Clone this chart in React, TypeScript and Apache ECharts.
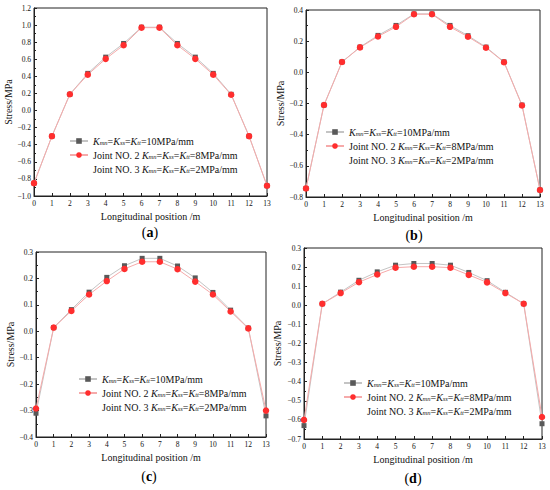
import React, { useEffect, useRef } from "react";
import * as echarts from "echarts";

// ---- data ----
const positions = [0, 1, 2, 3, 4, 5, 6, 7, 8, 9, 10, 11, 12, 13];
const seriesNames = [
  "Kmn=Kss=Ktt=10MPa/mm",
  "Joint NO. 2 Kmn=Kss=Ktt=8MPa/mm",
  "Joint NO. 3 Kmn=Kss=Ktt=2MPa/mm",
];
const panelA_K10 = [-0.85, -0.3, 0.19, 0.435, 0.625, 0.785, 0.975, 0.975, 0.785, 0.625, 0.435, 0.19, -0.3, -0.88];
const panelA_K8 = [-0.85, -0.3, 0.19, 0.42, 0.605, 0.765, 0.97, 0.97, 0.765, 0.605, 0.42, 0.185, -0.3, -0.88];
const panelB_K10 = [-0.745, -0.21, 0.067, 0.162, 0.237, 0.301, 0.375, 0.375, 0.301, 0.235, 0.162, 0.067, -0.21, -0.755];
const panelB_K8 = [-0.745, -0.21, 0.066, 0.16, 0.23, 0.292, 0.373, 0.373, 0.292, 0.228, 0.158, 0.065, -0.213, -0.755];
const panelC_K10 = [-0.31, 0.014, 0.082, 0.148, 0.204, 0.248, 0.276, 0.276, 0.247, 0.202, 0.147, 0.08, 0.012, -0.32];
const panelC_K8 = [-0.292, 0.014, 0.077, 0.139, 0.19, 0.236, 0.263, 0.263, 0.235, 0.188, 0.139, 0.075, 0.011, -0.3];
const panelD_K10 = [-0.63, 0.008, 0.069, 0.131, 0.175, 0.21, 0.219, 0.219, 0.21, 0.172, 0.129, 0.068, 0.008, -0.62];
const panelD_K8 = [-0.6, 0.008, 0.064, 0.121, 0.161, 0.197, 0.202, 0.202, 0.197, 0.159, 0.12, 0.064, 0.008, -0.585];
const panelLetters = ["a", "b", "c", "d"];
const yMin = [-1.0, -0.8, -0.4, -0.7];
const yMax = [1.2, 0.4, 0.3, 0.3];
const yStep = [0.2, 0.2, 0.1, 0.1];
const xMin = 0;
const xMax = 13;
const xStep = 1;
const xAxisTitle = "Longitudinal position /m";
const yAxisTitle = "Stress/MPa";

// ---- layout ----
const FONT = "'Liberation Serif', 'Times New Roman', serif";
const grids = [
  { left: 34, top: 8, width: 233, height: 188 },
  { left: 306, top: 10, width: 234, height: 187 },
  { left: 36, top: 252, width: 230, height: 185 },
  { left: 304, top: 248, width: 238, height: 191 },
];
const yNameGaps = [19, 18, 20, 22];
const legendPos = [
  { left: 69, top: 136 },
  { left: 325, top: 127 },
  { left: 78, top: 374 },
  { left: 343, top: 378 },
];
const labelPos = [
  { x: 150, y: 232 },
  { x: 414, y: 235 },
  { x: 149, y: 476 },
  { x: 413, y: 478 },
];

function fmtTick(v: number) {
  const r = Math.round(v * 10) / 10;
  if (Math.abs(r) < 1e-9) return "0.0";
  return (r < 0 ? "\u2212" : "") + Math.abs(r).toFixed(1);
}

export default function App() {
  const ref = useRef<HTMLDivElement>(null);
  useEffect(() => {
    if (!ref.current) return;
    const chart = echarts.init(ref.current, undefined, { renderer: "svg" });
    const panelData = [
      [panelA_K10, panelA_K8],
      [panelB_K10, panelB_K8],
      [panelC_K10, panelC_K8],
      [panelD_K10, panelD_K8],
    ];
    const axisLine = { show: true, onZero: false, lineStyle: { color: "#222", width: 1 } };
    const series: any[] = [];
    panelData.forEach((pd, i) => {
      series.push({
        type: "line",
        name: seriesNames[0],
        xAxisIndex: i,
        yAxisIndex: i,
        data: positions.map((x, j) => [x, pd[0][j]]),
        symbol: "rect",
        symbolSize: 5,
        clip: false,
        itemStyle: { color: "#595959" },
        lineStyle: { color: "#c4c4c4", width: 1 },
      });
      series.push({
        type: "line",
        name: seriesNames[1],
        xAxisIndex: i,
        yAxisIndex: i,
        data: positions.map((x, j) => [x, pd[1][j]]),
        symbol: "circle",
        symbolSize: 6.5,
        clip: false,
        itemStyle: { color: "#ff2e2e" },
        lineStyle: { color: "#f6aaaa", width: 1 },
      });
      series.push({
        type: "line",
        name: seriesNames[2],
        xAxisIndex: i,
        yAxisIndex: i,
        data: [],
        symbol: "none",
        itemStyle: { color: "rgba(0,0,0,0)" },
        lineStyle: { color: "rgba(0,0,0,0)", width: 0 },
      });
    });

    const richLegend = {
      k: { fontStyle: "italic", fontSize: 10, fontFamily: FONT, color: "#111", lineHeight: 10 },
      s: { fontStyle: "italic", fontSize: 6.5, fontFamily: FONT, color: "#111", verticalAlign: "bottom", lineHeight: 6 },
    };

    const option: any = {
      animation: false,
      backgroundColor: "#fff",
      grid: grids.map((g) => ({ ...g, show: true, borderColor: "#222", borderWidth: 1, containLabel: false })),
      xAxis: grids.map((_, i) => ({
        type: "value",
        gridIndex: i,
        min: xMin,
        max: xMax,
        interval: xStep,
        name: xAxisTitle,
        nameLocation: "middle",
        nameGap: 15,
        nameTextStyle: { fontFamily: FONT, fontSize: 10, color: "#111" },
        axisLine,
        axisTick: { show: true, inside: true, length: 3, lineStyle: { color: "#222" } },
        minorTick: { show: false },
        axisLabel: { fontFamily: FONT, fontSize: 7.5, color: "#111", margin: 3 },
        splitLine: { show: false },
      })),
      yAxis: grids.map((_, i) => ({
        type: "value",
        gridIndex: i,
        min: yMin[i],
        max: yMax[i],
        interval: yStep[i],
        name: yAxisTitle,
        nameLocation: "middle",
        nameGap: yNameGaps[i],
        nameTextStyle: { fontFamily: FONT, fontSize: 10, color: "#111" },
        axisLine,
        axisTick: { show: true, inside: true, length: 3, lineStyle: { color: "#222" } },
        minorTick: { show: true, splitNumber: 2, length: 2, lineStyle: { color: "#222" } },
        axisLabel: { fontFamily: FONT, fontSize: 7.5, color: "#111", margin: 3, formatter: fmtTick },
        splitLine: { show: false },
      })),
      legend: legendPos.map((p) => ({
        left: p.left,
        top: p.top,
        orient: "vertical",
        itemWidth: 18,
        itemHeight: 7,
        itemGap: 4,
        padding: 0,
        selectedMode: false,
        data: seriesNames,
        formatter: (name: string) => name.replace(/K(mn|ss|tt)/g, (_m: string, s: string) => `{k|K}{s|${s}}`),
        textStyle: { fontFamily: FONT, fontSize: 10, color: "#111", lineHeight: 10, rich: richLegend },
      })),
      graphic: labelPos.map((p, i) => ({
        type: "text",
        x: p.x,
        y: p.y,
        style: {
          text: `{n|(}{b|${panelLetters[i]}}{n|)}`,
          align: "center",
          verticalAlign: "middle",
          rich: {
            n: { fontFamily: FONT, fontSize: 14, color: "#111" },
            b: { fontFamily: FONT, fontSize: 14, fontWeight: "bold", color: "#111" },
          },
        },
      })),
      series,
    };
    chart.setOption(option);
    return () => chart.dispose();
  }, []);
  return (
    <div
      ref={ref}
      style={{ position: "fixed", left: 0, top: 0, width: 550, height: 490, background: "#fff" }}
    />
  );
}
